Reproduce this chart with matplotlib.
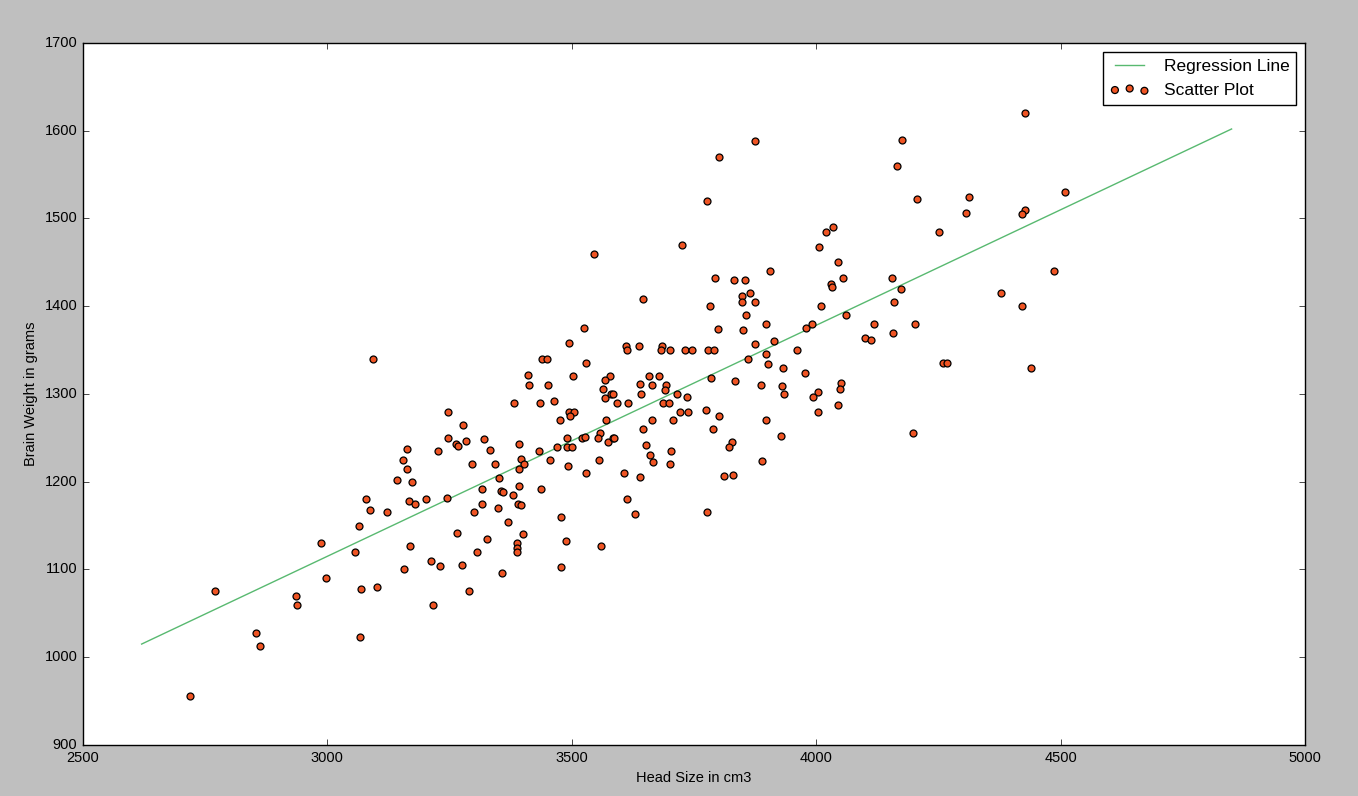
"""Scatter plot of head size vs brain weight with its regression line."""
from matplotlib import pyplot as plt

# Points (head size in cm3, brain weight in grams)
head_size = [
    3546,
    3874, 3802, 3777, 3725, 4034, 4020, 4006, 4044, 3905, 3794, 3832, 3854, 4055,
    4030, 4032, 3645, 3848, 3864, 3849, 3874,
    4428, 4175, 4165, 4206, 4313, 4306, 4428, 4421, 4510, 4251, 4486, 4156, 4174,
    4159, 4379,
    4422, 4119, 4202, 4158, 4101, 4112, 4259, 4268, 4440, 4198,
    3093, 3142, 3080,
    3088, 3122, 3065, 2987, 3056, 2998, 3069, 3102, 2771, 2935, 2937, 2855, 2862,
    3067, 2718,
    3300, 3350, 3477, 3370, 3266, 3400, 3327, 3387, 3389, 3389, 3488, 3559, 3169,
    3307, 3212, 3231, 3275, 3156, 3477, 3358, 3290, 3216,
    3630, 3777,
    3525, 3495, 3611, 3613, 3440, 3449, 3530, 3410, 3502, 3578, 3569, 3413, 3452,
    3564, 3580, 3584, 3569, 3464, 3381, 3436, 3592, 3615, 3495, 3504, 3497, 3247,
    3277, 3476, 3570, 3557, 3554, 3246, 3321, 3283, 3264, 3268, 3392, 3521, 3528,
    3490, 3575, 3584, 3587, 3163, 3226, 3332, 3434, 3470, 3491, 3501, 3154, 3397,
    3456, 3556, 3295, 3342, 3402, 3392, 3163, 3493, 3530, 3607, 3173, 3352, 3316,
    3392, 3437, 3356, 3360, 3379, 3613, 3168, 3179, 3201, 3244, 3316, 3391, 3397,
    3783, 4010, 3856, 3897, 4061, 3800, 3851, 3980, 3991, 3914, 3875, 3638, 3685,
    3682, 3701, 3732, 3746, 3779, 3792, 3960, 3897, 3861, 3901, 3933, 3977, 3659,
    3678, 3785, 3833, 3639, 3665, 3693, 3690, 3888, 3931, 4051, 4049, 3642, 3715,
    3935, 4004, 3993, 3736, 3686, 3698, 4044, 3775, 3722, 3738, 4004, 3802, 3664,
    3708, 3898, 3646, 3789, 3928, 3652, 3828, 3822, 3704, 3660, 3667, 3702, 3889,
    3812, 3830, 3640,
]
brain_weight = [
    1460,
    1588, 1570, 1520, 1470, 1490, 1485, 1468, 1450, 1440, 1432, 1430, 1430, 1432,
    1425, 1422, 1408, 1412, 1415, 1405, 1405,
    1620, 1589, 1560, 1522, 1524, 1506, 1510, 1505, 1530, 1485, 1440, 1432, 1420,
    1405, 1415,
    1400, 1380, 1380, 1370, 1364, 1362, 1335, 1335, 1330, 1256,
    1340, 1202, 1180,
    1168, 1165, 1150, 1130, 1120, 1090, 1078, 1080, 1076, 1070, 1060, 1028, 1013,
    1023, 956,
    1165, 1170, 1160, 1154, 1142, 1140, 1135, 1130, 1125, 1120, 1132, 1127, 1127,
    1120, 1110, 1104, 1105, 1100, 1103, 1096, 1075, 1060,
    1163, 1165,
    1375, 1358, 1355, 1350, 1340, 1340, 1335, 1322, 1320, 1320, 1316, 1310, 1310,
    1306, 1300, 1300, 1295, 1292, 1290, 1290, 1290, 1290, 1280, 1280, 1275, 1279,
    1265, 1270, 1270, 1255, 1250, 1250, 1249, 1246, 1243, 1241, 1243, 1250, 1251,
    1250, 1245, 1250, 1250, 1237, 1235, 1236, 1235, 1240, 1240, 1240, 1225, 1226,
    1225, 1225, 1220, 1220, 1220, 1215, 1215, 1218, 1210, 1210, 1200, 1204, 1192,
    1195, 1192, 1190, 1188, 1185, 1180, 1178, 1175, 1180, 1181, 1175, 1175, 1173,
    1400, 1400, 1390, 1380, 1390, 1374, 1373, 1375, 1380, 1360, 1357, 1355, 1355,
    1350, 1350, 1350, 1350, 1350, 1350, 1350, 1346, 1340, 1334, 1330, 1324, 1320,
    1321, 1318, 1315, 1311, 1310, 1310, 1305, 1310, 1309, 1312, 1306, 1300, 1300,
    1300, 1302, 1296, 1297, 1290, 1290, 1287, 1282, 1280, 1280, 1280, 1275, 1270,
    1270, 1270, 1260, 1260, 1252, 1242, 1245, 1240, 1235, 1230, 1222, 1220, 1224,
    1207, 1208, 1205,
]

# Regression line end points as drawn in the reference
line_x = [2620, 4850]
line_y = [1015, 1602]

x_ticks = [2500, 3000, 3500, 4000, 4500, 5000]
y_ticks = [900, 1000, 1100, 1200, 1300, 1400, 1500, 1600, 1700]

plt.style.use("classic")
plt.rcParams["font.family"] = ["Liberation Sans", "DejaVu Sans"]

fig = plt.figure(figsize=(13.58, 7.96), dpi=100, facecolor="#bfbfbf")
ax = fig.add_axes([0.0611, 0.0641, 0.8998, 0.8819])

ax.plot(line_x, line_y, color="#58b970", linewidth=1.0, label="Regression Line")
ax.scatter(head_size, brain_weight, c="#ef5423", s=25, edgecolors="black",
           linewidths=0.9, label="Scatter Plot", zorder=3)

ax.set_xlim(2500, 5000)
ax.set_ylim(900, 1700)
ax.set_xticks(x_ticks)
ax.set_yticks(y_ticks)
ax.tick_params(labelsize=10.5)
ax.set_xlabel("Head Size in cm3", fontsize=10.5)
ax.set_ylabel("Brain Weight in grams", fontsize=10.5)

ax.legend(loc="upper right", fontsize=12.5, scatterpoints=3, numpoints=2,
          handlelength=2.3)

fig.savefig("out.png", dpi=100, facecolor=fig.get_facecolor())
